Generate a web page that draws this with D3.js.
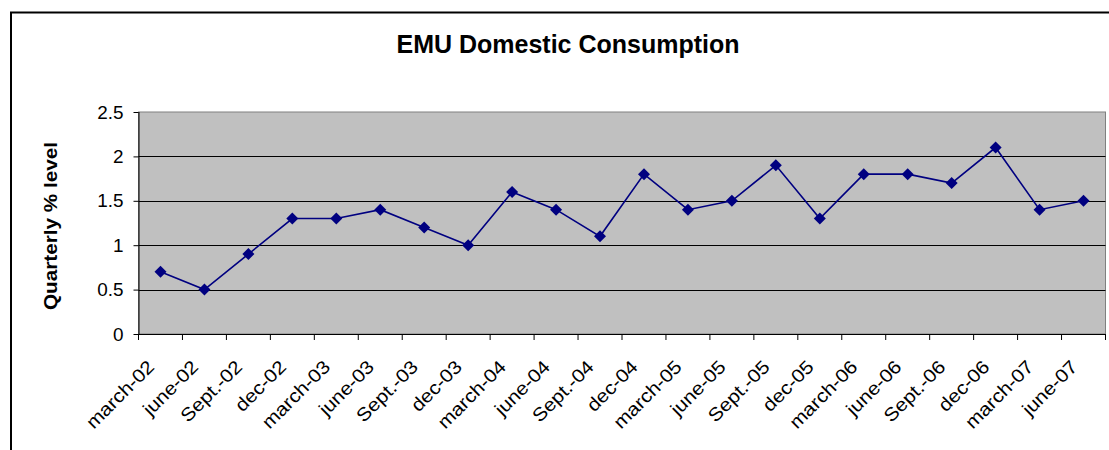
<!DOCTYPE html>
<html><head><meta charset="utf-8">
<script src="https://cdn.jsdelivr.net/npm/d3@7"></script>
<style>body{margin:0;background:#fff;} svg{display:block;font-family:"Liberation Sans",Arial,sans-serif;}</style>
</head><body>
<script>
const categories = ["march-02","june-02","Sept.-02","dec-02","march-03","june-03","Sept.-03","dec-03","march-04","june-04","Sept.-04","dec-04","march-05","june-05","Sept.-05","dec-05","march-06","june-06","Sept.-06","dec-06","march-07","june-07"];
const values = [0.7,0.5,0.9,1.3,1.3,1.4,1.2,1.0,1.6,1.4,1.1,1.8,1.4,1.5,1.9,1.3,1.8,1.8,1.7,2.1,1.4,1.5];
const yTicks = [0,0.5,1,1.5,2,2.5];
const title = "EMU Domestic Consumption";
const yLabel = "Quarterly % level";

const W=1109,H=450;
const svg=d3.select("body").append("svg").attr("width",W).attr("height",H);
// outer frame
svg.append("path").attr("d","M11,450 V12.5 H1109").attr("fill","none").attr("stroke","#000").attr("stroke-width",2);

const L=138.5,R=1105.5,T=112,B=334;
const x=d3.scaleBand().domain(categories).range([L,R]).paddingInner(0).paddingOuter(0);
const y=d3.scaleLinear().domain([0,2.5]).range([B,T]);

svg.append("rect").attr("x",L).attr("y",T).attr("width",R-L).attr("height",B-T).attr("fill","#C0C0C0").attr("stroke","#808080").attr("stroke-width",1);

// gridlines
svg.append("g").selectAll("line").data(yTicks.filter(d=>d>0&&d<2.5)).join("line")
  .attr("x1",L).attr("x2",R).attr("y1",d=>Math.round(y(d))+0.5).attr("y2",d=>Math.round(y(d))+0.5)
  .attr("stroke","#000").attr("stroke-width",1);

// y axis
const ya=svg.append("g").attr("transform",`translate(${L},0)`)
  .call(d3.axisLeft(y).tickValues(yTicks).tickSize(5).tickPadding(0).tickFormat(d=>String(d)));
ya.select(".domain").attr("d",`M0.5,${T}V${B}`).attr("stroke","#000");
ya.selectAll(".tick text").attr("x",null).attr("dy",null)
  .attr("transform","translate(-15,6) scale(1.08,1)")
  .attr("font-size",17.5).attr("fill","#000").attr("font-family","Liberation Sans, Arial, sans-serif");
ya.selectAll(".tick line").attr("stroke","#000");

// x axis
const tickPos=categories.map((c,i)=>x(c)).concat([R]);
const xa=svg.append("g");
xa.append("line").attr("x1",L).attr("x2",R).attr("y1",B+0.5).attr("y2",B+0.5).attr("stroke","#000");
xa.selectAll("line.t").data(tickPos).join("line").attr("class","t")
  .attr("x1",d=>d).attr("x2",d=>d).attr("y1",B).attr("y2",B+6).attr("stroke","#000");
xa.selectAll("text").data(categories).join("text")
  .attr("transform",d=>`translate(${x(d)+x.bandwidth()/2-5},${B+34}) rotate(-45) scale(1.12,1)`)
  .attr("text-anchor","end").attr("font-size",18.5).attr("fill","#000").text(d=>d);

// line
const line=d3.line().x((d,i)=>x(categories[i])+x.bandwidth()/2).y(d=>y(d));
svg.append("path").datum(values).attr("d",line).attr("fill","none").attr("stroke","#000080").attr("stroke-width",1.6);
svg.append("g").selectAll("path").data(values).join("path")
  .attr("transform",(d,i)=>`translate(${x(categories[i])+x.bandwidth()/2},${y(d)})`)
  .attr("d","M0,-6L6,0L0,6L-6,0Z").attr("fill","#000080");

// title
svg.append("text").attr("x",568).attr("y",53).attr("text-anchor","middle").attr("font-size",25).attr("font-weight","bold").text(title);
svg.append("text").attr("transform",`translate(57,${(T+B)/2+3}) rotate(-90) scale(1.12,1)`).attr("text-anchor","middle").attr("font-size",18.5).attr("font-weight","bold").text(yLabel);
</script>
</body></html>
